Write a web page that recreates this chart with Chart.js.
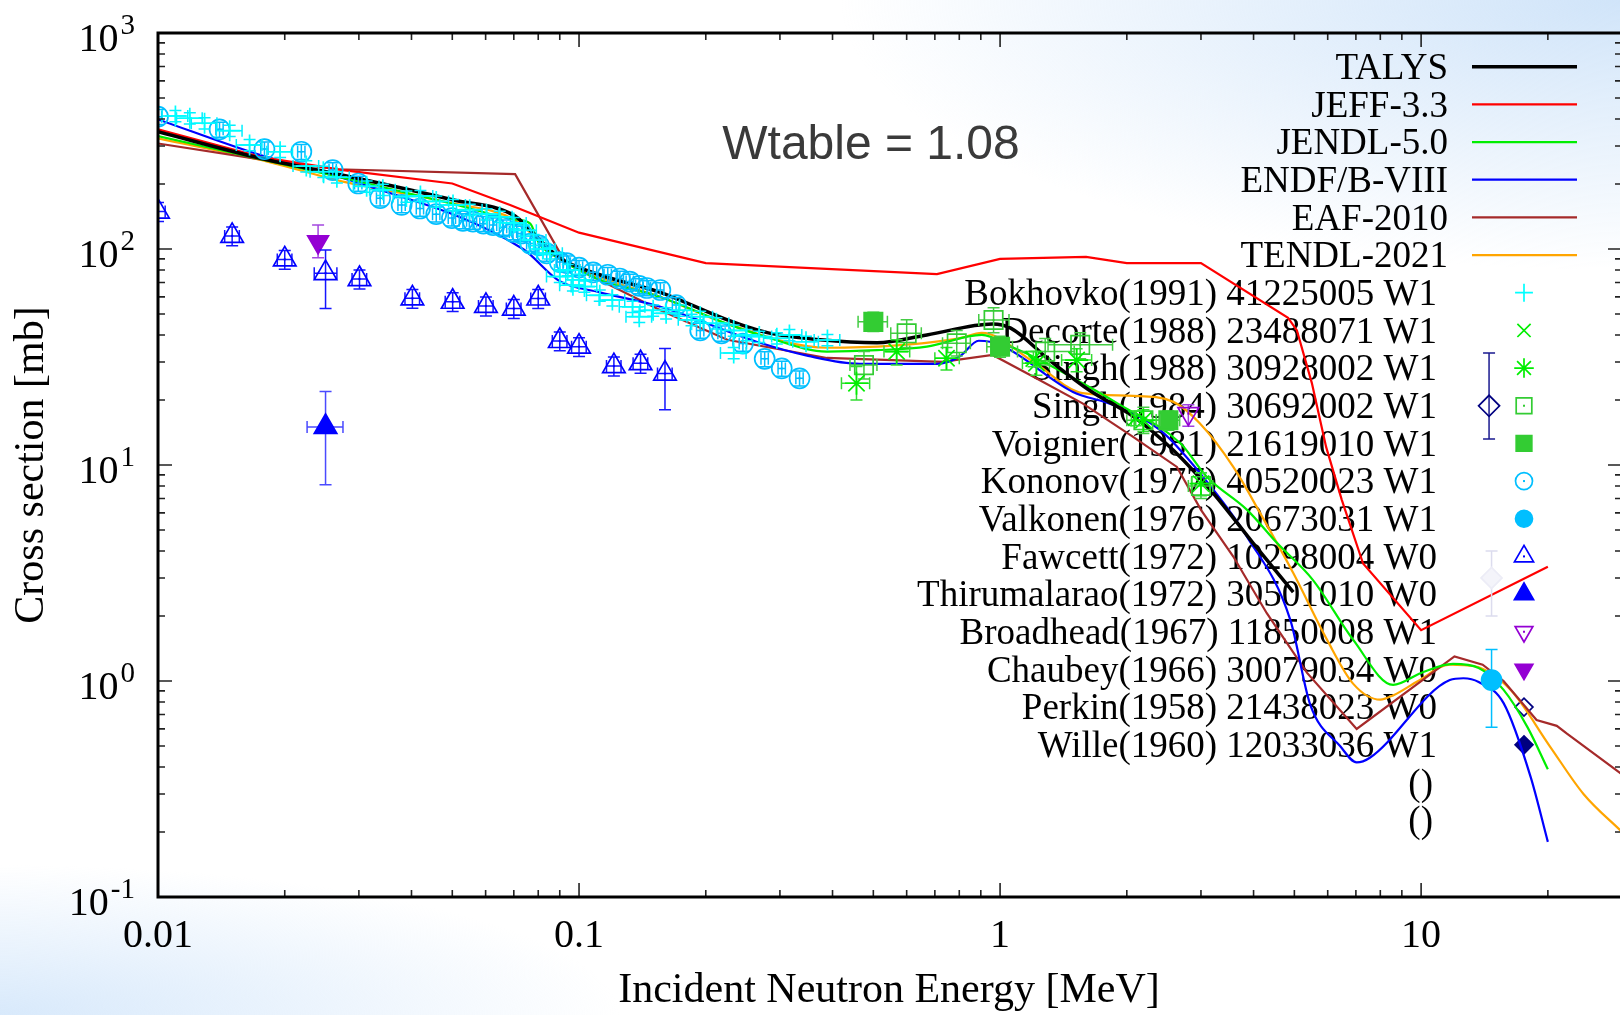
<!DOCTYPE html>
<html>
<head>
<meta charset="utf-8">
<title>Cross section vs incident neutron energy</title>
<script src="https://cdn.jsdelivr.net/npm/chart.js@4.4.1/dist/chart.umd.min.js"></script>
<style>
  html, body { margin: 0; padding: 0; overflow: hidden; }
  body {
    width: 1620px;
    height: 1015px;
    background:
      radial-gradient(ellipse 780px 270px at 100% 0%, rgba(206, 227, 249, 0.95), rgba(255, 255, 255, 0) 100%),
      radial-gradient(ellipse 620px 150px at 0% 100%, rgba(214, 232, 251, 0.95), rgba(255, 255, 255, 0) 100%),
      #ffffff;
  }
  #xsChart { position: absolute; left: 0; top: 0; }
</style>
</head>
<body>
<canvas id="xsChart" width="1626" height="1015"></canvas>
<script>
// ---- evaluated libraries: energy [MeV], cross section [mb] ----
const talysE  = [0.01, 0.0175, 0.0286, 0.05, 0.0705, 0.0766, 0.09, 0.112, 0.156, 0.225, 0.28, 0.374, 0.51, 0.67, 0.96, 1.06, 1.31, 1.64, 2.07, 2.58, 3.21, 3.99, 4.97];
const talysXS = [349, 263, 216, 169, 142, 122, 91, 76, 63, 47, 41, 38, 36.8, 40, 45, 43, 30.6, 22, 16.8, 11.7, 7.4, 4.35, 2.58];

const jeffE  = [0.01, 0.0175, 0.0275, 0.05, 0.0686, 0.1, 0.2, 0.708, 1.0, 1.6, 2.0, 3.0, 4.83, 5.07, 5.5, 5.95, 6.48, 7.28, 10, 20];
const jeffXS = [358, 267, 232, 201, 160, 119, 86, 76.5, 90, 92, 86, 86, 48, 42, 24, 12.1, 6.9, 3.5, 1.72, 3.38];

const jendlE  = [0.01, 0.0286, 0.05, 0.0705, 0.0766, 0.080, 0.09, 0.112, 0.156, 0.225, 0.28, 0.388, 0.51, 0.67, 0.905, 1.06, 1.2, 1.57, 1.9, 2.68, 3.1, 3.86, 4.55, 5.53, 6.9, 8.58, 10, 11.9, 13.7, 15.7, 17.9, 20];
const jendlXS = [333, 210, 162, 137, 131, 108, 90, 72, 60, 45, 39, 33.5, 34, 35.3, 40, 35.3, 31.7, 23.9, 19.3, 12.6, 8.8, 6.2, 4.35, 2.94, 1.55, 0.96, 1.09, 1.2, 1.15, 0.91, 0.61, 0.39];

const endfE  = [0.01, 0.0175, 0.0286, 0.0736, 0.09, 0.112, 0.156, 0.27, 0.35, 0.464, 0.708, 0.80, 0.89, 1.0, 1.49, 1.85, 2.4, 2.98, 3.86, 4.89, 5.45, 6.42, 7.03, 7.54, 11.7, 12.6, 13.7, 15.7, 18.2, 20];
const endfXS = [398, 272, 208, 100, 71, 63, 54, 36.7, 32, 29.4, 29.4, 31.7, 37.6, 36, 21.8, 19, 14.5, 9.2, 4.65, 1.92, 0.78, 0.50, 0.42, 0.44, 1.01, 1.03, 0.99, 0.79, 0.36, 0.18];

const eafE  = [0.01, 0.0175, 0.0266, 0.0705, 0.093, 0.156, 0.225, 0.388, 0.73, 0.96, 1.2, 1.57, 2.07, 2.63, 3.0, 3.58, 4.3, 5.36, 7.03, 12.0, 14.0, 15.7, 18.8, 21.0, 22.2, 30];
const eafXS = [308, 260, 234, 222, 86, 52, 38, 31.3, 30, 32.3, 25.6, 19.3, 13.5, 9.8, 6.2, 3.77, 2.06, 1.09, 0.60, 1.30, 1.19, 1.0, 0.66, 0.62, 0.57, 0.37];

const tendlE  = [0.01, 0.0182, 0.0275, 0.05, 0.07, 0.08, 0.09, 0.112, 0.156, 0.225, 0.388, 0.557, 0.8, 0.905, 1.2, 1.57, 2.07, 2.58, 2.98, 3.58, 4.15, 4.97, 5.98, 6.9, 8.0, 8.6, 9.84, 11.7, 13.4, 16.3, 20.2, 24.3, 30];
const tendlXS = [325, 254, 205, 163, 137, 110, 90, 74, 60, 45, 34.9, 35.7, 38.6, 40.9, 30, 21.5, 20.9, 19.6, 15.6, 9.8, 5.97, 3.16, 1.55, 0.97, 0.82, 0.86, 1.0, 1.19, 1.17, 0.91, 0.50, 0.30, 0.20];

// ---- measurements ----
const bokhovkoE  = [0.0110, 0.0119, 0.0129, 0.0148, 0.0165, 0.0195, 0.0225, 0.0247, 0.0266, 0.0313, 0.0342, 0.0389, 0.0420, 0.0458, 0.0502, 0.0550, 0.0603, 0.0648, 0.0700, 0.0740, 0.0780, 0.0820, 0.0853, 0.0900, 0.0940, 0.0967, 0.1000, 0.1030, 0.1120, 0.1200, 0.1340, 0.1390, 0.1500, 0.1610, 0.1730, 0.1850, 0.1940, 0.2120, 0.2330, 0.2330, 0.2500, 0.2680, 0.2950, 0.3160, 0.3460, 0.3890];
const bokhovkoXS = [413, 403, 382, 353, 303, 282, 242, 228, 215, 195, 188, 175, 176, 166, 160, 152, 145, 141, 132, 122, 110, 100, 95.5, 74.5, 80, 68, 72, 67, 61, 58, 54, 48.6, 52, 50.4, 52, 47, 48.6, 45.3, 42, 33, 40, 39.3, 38.6, 40, 37.2, 37.9];
const bokhovkoUnc = { dE: 0.07, dXS: 0.06 };

const decorteE = [1.2, 2.1];
const decorteXS = [31, 16.5];
const decorteLo = [28.5, 15.2];
const decorteHi = [33.5, 17.8];

const singh88E   = [0.456, 0.568, 0.746, 1.22, 1.52, 2.19, 3.0];
const singh88XS  = [23.9, 33.5, 31.2, 29.6, 30.6, 16.1, 8.2];
const singh88Lo  = [20, 29, 27.5, 26, 27, 14.3, 7.2];
const singh88Hi  = [28.6, 38, 35, 33.5, 34.5, 18, 9.2];
const singh88ELo = [0.42, 0.53, 0.70, 1.13, 1.40, 2.05, 2.85];
const singh88EHi = [0.49, 0.61, 0.80, 1.31, 1.65, 2.35, 3.15];

const singh84E   = [0.475, 0.6, 0.789, 0.965, 1.28, 1.55, 2.19, 3.0];
const singh84XS  = [29, 40.7, 36.6, 46.9, 33.5, 36, 16.1, 8.0];
const singh84Lo  = [25, 35, 32, 41, 29, 31, 14, 7];
const singh84Hi  = [33.5, 47, 42, 53.5, 38.5, 41, 18.5, 9.2];
const singh84ELo = [0.44, 0.55, 0.73, 0.89, 1.10, 1.30, 2.0, 2.8];
const singh84EHi = [0.51, 0.65, 0.85, 1.05, 1.50, 1.85, 2.4, 3.2];

const voignierE   = [0.5, 1.0, 2.51];
const voignierXS  = [46, 35.3, 16.1];
const voignierLo  = [41.5, 31.5, 14.5];
const voignierHi  = [51, 39.5, 17.8];
const voignierELo = [0.46, 0.93, 2.35];
const voignierEHi = [0.54, 1.07, 2.67];

const kononovE  = [0.0100, 0.0140, 0.0179, 0.0219, 0.0260, 0.0299, 0.0337, 0.0379, 0.0419, 0.0458, 0.0499, 0.0530, 0.0560, 0.0593, 0.0625, 0.0660, 0.0697, 0.0730, 0.0766, 0.0803, 0.0838, 0.0900, 0.0935, 0.1000, 0.1080, 0.1170, 0.1250, 0.1320, 0.1390, 0.1450, 0.1560, 0.1700, 0.1940, 0.2180, 0.2450, 0.2760, 0.3030, 0.3340];
const kononovXS = [410, 358, 290, 282, 232, 201, 172, 160, 154, 145, 139, 135, 134, 131, 129, 126, 120, 118, 106, 104, 95.5, 87, 86, 82, 78, 76, 73, 70.7, 67.5, 66, 64.6, 55, 42, 40.7, 36.5, 31, 28, 25.2];
const kononovUnc = { dE: 0.02, dXS: 0.08 };

const valkonenE = [14.7];
const valkonenXS = [1.01];
const valkonenLo = [0.61];
const valkonenHi = [1.40];

const fawcettE  = [0.0100, 0.0150, 0.0200, 0.0250, 0.0301, 0.0402, 0.0501, 0.0601, 0.0700, 0.0800, 0.0900, 0.1000, 0.1210, 0.1400, 0.1600];
const fawcettXS = [149, 115, 89.5, 77.3, 72.6, 59.1, 57, 54.5, 53, 59, 37.5, 35.3, 28.7, 29.6, 26.5];
const fawcettLo = [134, 103.5, 80.5, 53, 65.3, 53.2, 51.3, 49, 47.7, 53.1, 33.8, 31.8, 25.8, 26.6, 18.0];
const fawcettHi = [164, 126.5, 98.5, 99, 79.9, 65, 62.7, 60, 58.3, 64.9, 41.3, 38.8, 31.6, 32.6, 34.6];
const fawcettELo = [0.0096, 0.0144, 0.0192, 0.0235, 0.0289, 0.0386, 0.0481, 0.0577, 0.0672, 0.0768, 0.0864, 0.0960, 0.1162, 0.1344, 0.1536];
const fawcettEHi = [0.0104, 0.0156, 0.0208, 0.0266, 0.0313, 0.0418, 0.0521, 0.0625, 0.0728, 0.0832, 0.0936, 0.1040, 0.1258, 0.1456, 0.1664];

const thirumalaraoE = [0.025];
const thirumalaraoXS = [15.0];
const thirumalaraoLo = [8.1];
const thirumalaraoHi = [21.9];
const thirumalaraoELo = [0.0226];
const thirumalaraoEHi = [0.0275];

const broadheadE = [2.8];
const broadheadXS = [17.3];
const broadheadLo = [15.1];
const broadheadHi = [19.0];

const chaubeyE = [0.024];
const chaubeyXS = [108];
const chaubeyLo = [91];
const chaubeyHi = [129];

const perkinE = [14.5];
const perkinXS = [18.8];
const perkinLo = [13.2];
const perkinHi = [33.0];

const willeE = [14.7];
const willeXS = [3.0];
const willeLo = [2.0];
const willeHi = [4.0];

// axis labelling
const xTickValues = [0.01, 0.1, 1, 10];
const xTickLabels = ['0.01', '0.1', '1', '10'];
const yTickExponents = [-1, 0, 1, 2, 3];
const emptyLegendRows = ['()', '()'];

// ---- helpers ----
function toPoints(E, XS) {
  return E.map((e, i) => ({ x: e, y: XS[i] }));
}
function pairs(lo, hi) {
  return lo.map((v, i) => [v, hi[i]]);
}
function relPairs(vals, frac) {
  return vals.map(v => [v * (1 - frac), v * (1 + frac)]);
}

function curve(label, E, XS, color, width, smooth) {
  return {
    label: label,
    kind: 'curve',
    data: toPoints(E, XS),
    showLine: true,
    borderColor: color,
    backgroundColor: color,
    borderWidth: width,
    pointRadius: 0,
    pointHoverRadius: 0,
    tension: 0,
    cubicInterpolationMode: smooth ? 'monotone' : 'default',
    order: 2
  };
}

function measured(label, E, XS, style) {
  return Object.assign({
    label: label,
    kind: 'points',
    data: toPoints(E, XS),
    showLine: false,
    pointBorderWidth: 1.7,
    pointHoverRadius: 0,
    order: 1
  }, style);
}

const CLEAR = 'rgba(0,0,0,0)';

const datasets = [
  curve('TALYS', talysE, talysXS, '#000000', 3.5, true),
  curve('JEFF-3.3', jeffE, jeffXS, '#ff0000', 2.2, false),
  curve('JENDL-5.0', jendlE, jendlXS, '#00ee00', 2.2, true),
  curve('ENDF/B-VIII', endfE, endfXS, '#0000ff', 2.2, true),
  curve('EAF-2010', eafE, eafXS, '#a52a2a', 2.2, false),
  curve('TENDL-2021', tendlE, tendlXS, '#ffa500', 2.2, true),

  measured('Bokhovko(1991) 41225005 W1', bokhovkoE, bokhovkoXS, {
    pointStyle: 'cross', pointRadius: 10.5, pointBorderColor: '#00ffff', pointBackgroundColor: '#00ffff',
    errX: relPairs(bokhovkoE, bokhovkoUnc.dE), errY: relPairs(bokhovkoXS, bokhovkoUnc.dXS), errColor: '#00f0ff'
  }),
  measured('Decorte(1988) 23488071 W1', decorteE, decorteXS, {
    pointStyle: 'crossRot', pointRadius: 11, pointBorderColor: '#00ee00', pointBackgroundColor: '#00ee00',
    errY: pairs(decorteLo, decorteHi), errColor: '#33dd33'
  }),
  measured('Singh(1988) 30928002 W1', singh88E, singh88XS, {
    pointStyle: 'star', pointRadius: 11.5, pointBorderColor: '#00ee00', pointBackgroundColor: '#00ee00',
    errX: pairs(singh88ELo, singh88EHi), errY: pairs(singh88Lo, singh88Hi), errColor: '#33dd33'
  }),
  measured('Singh(1984) 30692002 W1', singh84E, singh84XS, {
    pointStyle: 'rect', pointRadius: 13, pointBorderColor: '#33cc33', pointBackgroundColor: CLEAR,
    centerDot: true, errX: pairs(singh84ELo, singh84EHi), errY: pairs(singh84Lo, singh84Hi), errColor: '#44cc44'
  }),
  measured('Voignier(1981) 21619010 W1', voignierE, voignierXS, {
    pointStyle: 'rect', pointRadius: 13, pointBorderColor: '#33cc33', pointBackgroundColor: '#33cc33',
    errX: pairs(voignierELo, voignierEHi), errY: pairs(voignierLo, voignierHi), errColor: '#44cc44'
  }),
  measured('Kononov(1977) 40520023 W1', kononovE, kononovXS, {
    pointStyle: 'circle', pointRadius: 10, pointBorderColor: '#00bfff', pointBackgroundColor: CLEAR,
    centerDot: true, errX: relPairs(kononovE, kononovUnc.dE), errY: relPairs(kononovXS, kononovUnc.dXS), errColor: '#00bfff'
  }),
  measured('Valkonen(1976) 20673031 W1', valkonenE, valkonenXS, {
    pointStyle: 'circle', pointRadius: 10, pointBorderColor: '#00bfff', pointBackgroundColor: '#00bfff',
    errY: pairs(valkonenLo, valkonenHi), errColor: '#00bfff'
  }),
  measured('Fawcett(1972) 10298004 W0', fawcettE, fawcettXS, {
    pointStyle: 'triangle', pointRadius: 13, pointBorderColor: '#0000ff', pointBackgroundColor: CLEAR,
    centerDot: true, errX: pairs(fawcettELo, fawcettEHi), errY: pairs(fawcettLo, fawcettHi), errColor: '#1515ff'
  }),
  measured('Thirumalarao(1972) 30501010 W0', thirumalaraoE, thirumalaraoXS, {
    pointStyle: 'triangle', pointRadius: 13, pointBorderColor: '#0000ff', pointBackgroundColor: '#0000ff',
    errX: pairs(thirumalaraoELo, thirumalaraoEHi), errY: pairs(thirumalaraoLo, thirumalaraoHi), errColor: '#4a4aff'
  }),
  measured('Broadhead(1967) 11850008 W1', broadheadE, broadheadXS, {
    pointStyle: 'triangle', pointRotation: 180, pointRadius: 12, pointBorderColor: '#9400d3', pointBackgroundColor: CLEAR,
    centerDot: true, errY: pairs(broadheadLo, broadheadHi), errColor: '#a040e0'
  }),
  measured('Chaubey(1966) 30079034 W0', chaubeyE, chaubeyXS, {
    pointStyle: 'triangle', pointRotation: 180, pointRadius: 12, pointBorderColor: '#9400d3', pointBackgroundColor: '#9400d3',
    errY: pairs(chaubeyLo, chaubeyHi), errColor: '#a448e0'
  }),
  measured('Perkin(1958) 21438023 W0', perkinE, perkinXS, {
    pointStyle: 'rectRot', pointRadius: 10.5, pointBorderColor: '#000080', pointBackgroundColor: CLEAR,
    errY: pairs(perkinLo, perkinHi), errColor: '#1a1a90'
  }),
  measured('Wille(1960) 12033036 W1', willeE, willeXS, {
    pointStyle: 'rectRot', pointRadius: 10.5, pointBorderColor: '#ececf6', pointBackgroundColor: '#f4f4fa',
    legendStroke: '#000080', legendFill: '#000080',
    errY: pairs(willeLo, willeHi), errColor: '#dcdcee'
  })
];

// ---- drawing helpers for the gnuplot-like frame, error bars and key ----
function drawErrorBars(chart, meta, ds) {
  if (!ds.errX && !ds.errY) return;
  const ctx = chart.ctx;
  const xs = chart.scales.x, ys = chart.scales.y, a = chart.chartArea;
  const cap = 6;
  ctx.save();
  ctx.beginPath();
  ctx.rect(a.left, a.top, a.right - a.left, a.bottom - a.top);
  ctx.clip();
  ctx.strokeStyle = ds.errColor || ds.pointBorderColor;
  ctx.lineWidth = 1.5;
  meta.data.forEach((pt, i) => {
    const x = pt.x, y = pt.y;
    ctx.beginPath();
    if (ds.errY && ds.errY[i]) {
      const y1 = ys.getPixelForValue(ds.errY[i][0]);
      const y2 = ys.getPixelForValue(ds.errY[i][1]);
      ctx.moveTo(x, y1); ctx.lineTo(x, y2);
      ctx.moveTo(x - cap, y1); ctx.lineTo(x + cap, y1);
      ctx.moveTo(x - cap, y2); ctx.lineTo(x + cap, y2);
    }
    if (ds.errX && ds.errX[i]) {
      const x1 = xs.getPixelForValue(ds.errX[i][0]);
      const x2 = xs.getPixelForValue(ds.errX[i][1]);
      ctx.moveTo(x1, y); ctx.lineTo(x2, y);
      ctx.moveTo(x1, y - cap); ctx.lineTo(x1, y + cap);
      ctx.moveTo(x2, y - cap); ctx.lineTo(x2, y + cap);
    }
    ctx.stroke();
  });
  ctx.restore();
}

function drawMarker(ctx, ds, x, y) {
  ctx.save();
  ctx.strokeStyle = ds.legendStroke || ds.pointBorderColor;
  ctx.fillStyle = ds.legendFill || ds.pointBackgroundColor;
  ctx.lineWidth = ds.pointBorderWidth;
  Chart.helpers.drawPoint(ctx, {
    pointStyle: ds.pointStyle,
    rotation: ds.pointRotation || 0,
    radius: ds.pointRadius * 0.85,
    borderWidth: ds.pointBorderWidth
  }, x, y);
  if (ds.centerDot) {
    ctx.fillStyle = ds.legendStroke || ds.pointBorderColor;
    ctx.fillRect(x - 1, y - 1, 2, 2);
  }
  ctx.restore();
}

const key = {
  top: 66.7, step: 37.67,
  curveTextRight: 1448, pointTextRight: 1437,
  sampleLeft: 1472, sampleRight: 1577, markerX: 1524
};

const gnuplotLook = {
  id: 'gnuplotLook',
  beforeDatasetsDraw(chart) {
    const ctx = chart.ctx;
    ctx.save();
    // annotation
    ctx.fillStyle = '#3a3a3a';
    ctx.font = '48px "Liberation Sans", Arial, sans-serif';
    ctx.textAlign = 'center';
    ctx.textBaseline = 'alphabetic';
    ctx.fillText('Wtable = 1.08', 871, 159);

    // key
    ctx.font = '37px "Liberation Serif", "Times New Roman", serif';
    ctx.fillStyle = '#000';
    ctx.textAlign = 'right';
    let row = 0;
    chart.data.datasets.forEach(ds => {
      const y = key.top + key.step * row;
      if (ds.kind === 'curve') {
        ctx.fillText(ds.label, key.curveTextRight, y + 12.3);
        ctx.beginPath();
        ctx.strokeStyle = ds.borderColor;
        ctx.lineWidth = ds.borderWidth;
        ctx.moveTo(key.sampleLeft, y);
        ctx.lineTo(key.sampleRight, y);
        ctx.stroke();
      } else {
        ctx.fillText(ds.label, key.pointTextRight, y + 12.3);
        drawMarker(ctx, ds, key.markerX, y);
      }
      row++;
    });
    emptyLegendRows.forEach(t => {
      ctx.fillText(t, key.pointTextRight - 4, key.top + key.step * row + 12.3);
      row++;
    });
    ctx.restore();
  },
  beforeDatasetDraw(chart, args) {
    drawErrorBars(chart, args.meta, chart.data.datasets[args.index]);
  },
  afterDatasetDraw(chart, args) {
    const ds = chart.data.datasets[args.index];
    if (!ds.centerDot) return;
    const ctx = chart.ctx, a = chart.chartArea;
    ctx.save();
    ctx.fillStyle = ds.pointBorderColor;
    args.meta.data.forEach(pt => {
      if (pt.x >= a.left && pt.x <= a.right && pt.y >= a.top && pt.y <= a.bottom) {
        ctx.fillRect(pt.x - 1, pt.y - 1, 2, 2);
      }
    });
    ctx.restore();
  },
  afterDraw(chart) {
    const ctx = chart.ctx;
    const xs = chart.scales.x, ys = chart.scales.y;
    const { left, right, top, bottom } = chart.chartArea;
    ctx.save();

    // tick marks on all four sides, pointing inwards
    ctx.strokeStyle = '#222';
    ctx.lineWidth = 1.6;
    ctx.beginPath();
    for (let d = -2; d <= 1; d++) {
      for (let m = 1; m <= 9; m++) {
        const v = m * Math.pow(10, d);
        if (v > xs.max) continue;
        const px = xs.getPixelForValue(v);
        const len = m === 1 ? 14 : 7;
        ctx.moveTo(px, bottom); ctx.lineTo(px, bottom - len);
        ctx.moveTo(px, top); ctx.lineTo(px, top + len);
      }
    }
    for (let d = -1; d <= 3; d++) {
      for (let m = 1; m <= 9; m++) {
        const v = m * Math.pow(10, d);
        if (v > ys.max) continue;
        const py = ys.getPixelForValue(v);
        const len = m === 1 ? 14 : 7;
        ctx.moveTo(left, py); ctx.lineTo(left + len, py);
        ctx.moveTo(right, py); ctx.lineTo(right - len, py);
      }
    }
    ctx.stroke();

    // border
    ctx.strokeStyle = '#000';
    ctx.lineWidth = 3;
    ctx.strokeRect(left, top, right - left, bottom - top);

    // tick labels
    ctx.fillStyle = '#000';
    ctx.textBaseline = 'alphabetic';
    ctx.font = '40px "Liberation Serif", "Times New Roman", serif';
    ctx.textAlign = 'center';
    xTickValues.forEach((v, i) => {
      ctx.fillText(xTickLabels[i], xs.getPixelForValue(v), 947);
    });

    yTickExponents.forEach(e => {
      const py = ys.getPixelForValue(Math.pow(10, e));
      const base = '10', sup = String(e);
      ctx.font = '40px "Liberation Serif", "Times New Roman", serif';
      const wBase = ctx.measureText(base).width;
      ctx.font = '29px "Liberation Serif", "Times New Roman", serif';
      const wSup = ctx.measureText(sup).width;
      const x0 = 135 - wBase - wSup - 2;
      ctx.textAlign = 'left';
      ctx.font = '40px "Liberation Serif", "Times New Roman", serif';
      ctx.fillText(base, x0, py + 18);
      ctx.font = '29px "Liberation Serif", "Times New Roman", serif';
      ctx.fillText(sup, x0 + wBase + 2, py + 1);
    });

    // axis titles
    ctx.font = '42px "Liberation Serif", "Times New Roman", serif';
    ctx.textAlign = 'center';
    ctx.fillText('Incident Neutron Energy [MeV]', 889, 1002);
    ctx.translate(43, 465);
    ctx.rotate(-Math.PI / 2);
    ctx.fillText('Cross section [mb]', 0, 0);
    ctx.restore();
  }
};

const chart = new Chart(document.getElementById('xsChart'), {
  type: 'scatter',
  data: { datasets: datasets },
  options: {
    responsive: false,
    devicePixelRatio: 1,
    animation: false,
    events: [],
    layout: { autoPadding: false, padding: { left: 158, right: 4, top: 33, bottom: 118 } },
    scales: {
      x: { type: 'logarithmic', min: 0.01, max: 30, display: false },
      y: { type: 'logarithmic', min: 0.1, max: 1000, display: false }
    },
    plugins: {
      legend: { display: false },
      tooltip: { enabled: false }
    }
  },
  plugins: [gnuplotLook]
});
</script>
</body>
</html>
